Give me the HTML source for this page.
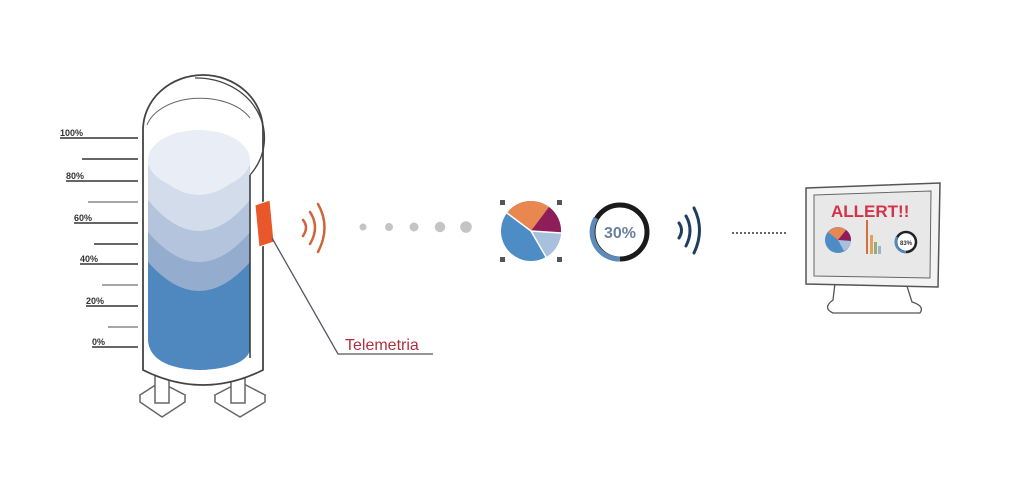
<!DOCTYPE html>
<html><head><meta charset="utf-8"><style>
html,body{margin:0;padding:0;background:#fff;}
svg{display:block;}
text{font-family:"Liberation Sans",sans-serif;}
</style></head><body>
<svg width="1024" height="494" viewBox="0 0 1024 494" xmlns="http://www.w3.org/2000/svg">
<!-- scale -->
<g stroke="#333" stroke-width="1.5">
<line x1="60" y1="138" x2="138" y2="138"/>
<line x1="82" y1="159" x2="138" y2="159"/>
<line x1="66" y1="181" x2="138" y2="181"/>
<line x1="88" y1="202" x2="138" y2="202" stroke="#888"/>
<line x1="74" y1="223" x2="138" y2="223"/>
<line x1="94" y1="244" x2="138" y2="244"/>
<line x1="80" y1="264" x2="138" y2="264"/>
<line x1="102" y1="285" x2="138" y2="285" stroke="#888"/>
<line x1="86" y1="306" x2="138" y2="306"/>
<line x1="108" y1="327" x2="138" y2="327" stroke="#888"/>
<line x1="92" y1="347" x2="138" y2="347"/>
</g>
<g font-size="9" fill="#333" font-weight="bold">
<text x="60" y="136">100%</text>
<text x="66" y="179">80%</text>
<text x="74" y="221">60%</text>
<text x="80" y="262">40%</text>
<text x="86" y="304">20%</text>
<text x="92" y="345">0%</text>
</g>
<!-- legs -->
<g fill="#fff" stroke="#666" stroke-width="1.5">
<path d="M140,395 L160,382 L185,395 L162,410 Z"/>
<path d="M215,395 L240,382 L265,395 L240,410 Z"/>
<path d="M140,395 L140,402 L162,417 L185,402 L185,395"/>
<path d="M215,395 L215,402 L240,417 L265,402 L265,395"/>
<rect x="155" y="370" width="14" height="33"/>
<rect x="231" y="370" width="14" height="33"/>
</g>
<!-- tank body -->
<path d="M143,370 L143,130 A60,55 0 0 1 263,130 L263,370 Q203,400 143,370 Z" fill="#fff" stroke="#444" stroke-width="1.8"/>
<path d="M195,78 A68,60 0 0 1 250,175" fill="none" stroke="#444" stroke-width="1.3"/>
<path d="M147,125 A55,35 0 0 1 250,118" fill="none" stroke="#666" stroke-width="1"/>
<!-- liquid -->
<clipPath id="c"><path d="M148,160 L148,340 Q150,368 200,370 Q245,368 250,350 L250,160 Z"/></clipPath>
<g clip-path="url(#c)">
<rect x="140" y="120" width="120" height="260" fill="#e8edf6"/>
<path d="M148,165 Q199,225 250,165 L250,380 L148,380 Z" fill="#d3dcea"/>
<path d="M148,200 Q199,262 250,200 L250,380 L148,380 Z" fill="#b4c4dc"/>
<path d="M148,232 Q199,292 250,232 L250,380 L148,380 Z" fill="#94acce"/>
<path d="M148,262 Q199,320 250,262 L250,380 L148,380 Z" fill="#4f88bf"/>
</g>
<ellipse cx="199" cy="160" rx="51" ry="30" fill="#e8edf6"/>
<line x1="250" y1="175" x2="250" y2="358" stroke="#333" stroke-width="1.5"/>
<!-- sensor -->
<path d="M255,205 L270,200 L274,242 L259,247 Z" fill="#e8582a" stroke="#fff" stroke-width="1"/>
<polyline points="272,238 338,354 433,354" fill="none" stroke="#556" stroke-width="1.3"/>
<text x="345" y="350" font-size="16" fill="#b03040">Telemetria</text>
<!-- orange waves -->
<g fill="none" stroke="#d0643a" stroke-width="2.5" stroke-linecap="round">
<path d="M303,220 Q309,227 303,236"/>
<path d="M310,212 Q320,227 310,244"/>
<path d="M318,204 Q331,227 318,252"/>
</g>
<g fill="#c4c4c4">
<circle cx="363" cy="227" r="3.5"/><circle cx="389" cy="227" r="4"/><circle cx="414" cy="227" r="4.5"/><circle cx="440" cy="227" r="5.2"/><circle cx="466" cy="227" r="5.8"/>
</g>
<!-- pie -->
<g transform="translate(531,231)">
<circle r="30" fill="#4d8cc4"/>
<path d="M0,0 L-24,-18 A30,30 0 0 1 18,-24 Z" fill="#e8874f"/>
<path d="M0,0 L18,-24 A30,30 0 0 1 30,2 Z" fill="#8f1d5a"/>
<path d="M0,0 L30,2 A30,30 0 0 1 15,26 Z" fill="#a8c0dc"/>
<g stroke="#fff" stroke-width="1.5"><line x1="0" y1="0" x2="-24" y2="-18"/><line x1="0" y1="0" x2="30" y2="2"/><line x1="0" y1="0" x2="15" y2="26"/></g>
<g fill="#555"><rect x="-31" y="-31" width="5" height="5"/><rect x="26" y="-31" width="5" height="5"/><rect x="-31" y="26" width="5" height="5"/><rect x="26" y="26" width="5" height="5"/></g>
</g>
<!-- ring -->
<circle cx="620" cy="232" r="27" fill="none" stroke="#1a1a1a" stroke-width="5"/>
<path d="M620,259 A27,27 0 0 1 596,218" fill="none" stroke="#5d8ab8" stroke-width="5"/>
<text x="620" y="238" font-size="16" font-weight="bold" fill="#6a7f9c" text-anchor="middle">30%</text>
<!-- blue waves -->
<g fill="none" stroke="#1e3d60" stroke-width="3" stroke-linecap="round">
<path d="M679,223 Q684,230 679,238"/>
<path d="M686,216 Q694,230 686,246"/>
<path d="M694,208 Q705,230 694,253"/>
</g>
<line x1="732" y1="233" x2="786" y2="233" stroke="#333" stroke-width="1.5" stroke-dasharray="2,2"/>
<!-- monitor -->
<path d="M835,283 L833,300 Q822,308 833,313 L920,313 Q925,306 912,302 L906,283 Z" fill="#fff" stroke="#555" stroke-width="1.3"/>
<path d="M806,188 L940,183 L938,287 L806,284 Z" fill="#f3f3f3" stroke="#555" stroke-width="1.5"/>
<path d="M814,195 L931,191 L930,278 L814,276 Z" fill="#e8e8e8" stroke="#666" stroke-width="1"/>
<text x="831" y="217" font-size="17" font-weight="bold" fill="#d2334a">ALLERT!!</text>
<g transform="translate(838,240)">
<circle r="13" fill="#4d8cc4"/>
<path d="M0,0 L-10,-8 A13,13 0 0 1 8,-10 Z" fill="#e8874f"/>
<path d="M0,0 L8,-10 A13,13 0 0 1 13,1 Z" fill="#8f1d5a"/>
<path d="M0,0 L13,1 A13,13 0 0 1 6,11 Z" fill="#a8c0dc"/>
</g>
<g>
<rect x="866" y="220" width="2" height="34" fill="#d07040"/>
<rect x="870" y="235" width="3" height="19" fill="#e0a060"/>
<rect x="874" y="242" width="3" height="12" fill="#8fb070"/>
<rect x="878" y="246" width="3" height="8" fill="#a0b0d0"/>
</g>
<circle cx="906" cy="242" r="10" fill="#fff" stroke="#222" stroke-width="2.5"/>
<path d="M906,252 A10,10 0 0 1 897,237" fill="none" stroke="#4d8cc4" stroke-width="2.5"/>
<text x="906" y="245" font-size="6" font-weight="bold" fill="#333" text-anchor="middle">83%</text>
</svg>
</body></html>
